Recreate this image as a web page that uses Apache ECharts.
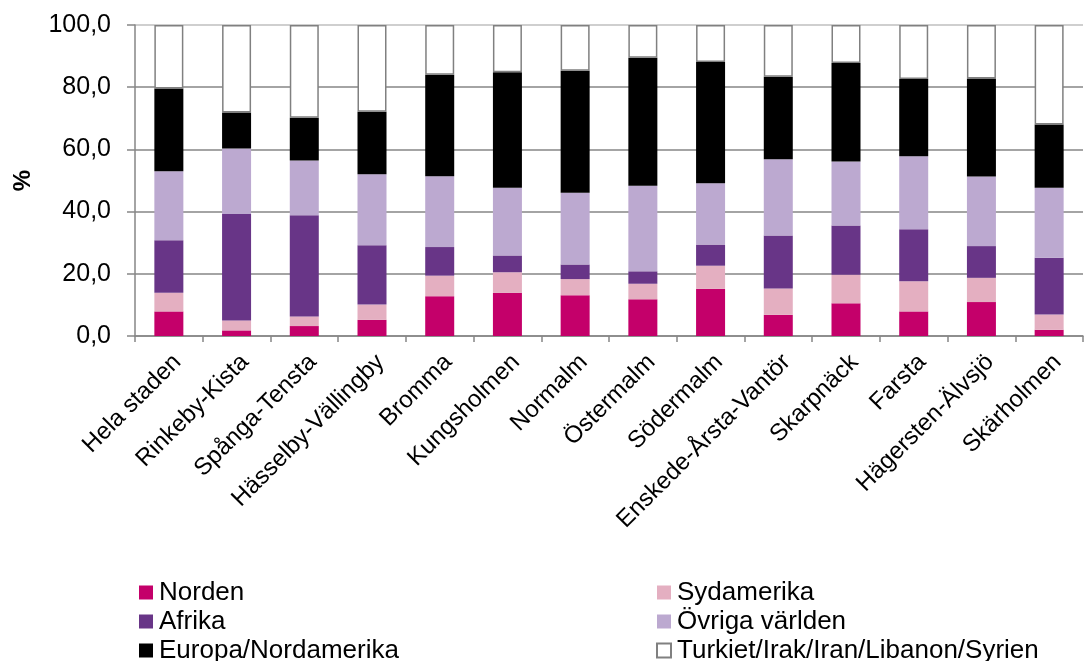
<!DOCTYPE html>
<html>
<head>
<meta charset="utf-8">
<script src="https://cdn.jsdelivr.net/npm/echarts@6/dist/echarts.min.js"></script>
<style>
html,body{margin:0;padding:0;background:#fff;}
#c{width:1090px;height:661px;}
</style>
</head>
<body>
<div id="c"></div>
<script>
const categories = ["Hela staden","Rinkeby-Kista","Spånga-Tensta","Hässelby-Vällingby","Bromma","Kungsholmen","Normalm","Östermalm","Södermalm","Enskede-Årsta-Vantör","Skarpnäck","Farsta","Hägersten-Älvsjö","Skärholmen"];
const norden      = [7.9, 1.8, 3.2, 5.2, 12.8, 13.9, 13.1, 11.8, 15.2, 6.8, 10.5, 7.9, 10.9, 2.0];
const sydamerika  = [6.0, 3.2, 3.1, 4.9, 6.6, 6.6, 5.2, 5.0, 7.4, 8.5, 9.2, 9.7, 7.8, 4.9];
const afrika      = [16.9, 34.2, 32.5, 19.1, 9.2, 5.4, 4.7, 4.0, 6.8, 17.0, 15.8, 16.7, 10.2, 18.3];
const ovriga      = [22.2, 21.1, 17.6, 22.8, 22.8, 21.8, 23.1, 27.5, 19.7, 24.5, 20.6, 23.5, 22.4, 22.5];
const europa      = [26.6, 11.6, 13.8, 20.1, 32.6, 37.1, 39.2, 41.2, 39.0, 26.6, 31.7, 24.8, 31.5, 20.3];
const turkiet     = [20.4, 28.1, 29.8, 27.9, 16.0, 15.2, 14.7, 10.5, 11.9, 16.6, 12.2, 17.4, 17.2, 32.0];
const yTicks = [0, 20, 40, 60, 80, 100];

const font = "'Liberation Sans', Arial, sans-serif";
const chart = echarts.init(document.getElementById('c'));

function s(name, data, color, border) {
  return {
    name: name, type: 'bar', stack: 'total', data: data,
    barWidth: 29,
    itemStyle: border ? {color: color, borderColor: '#808080', borderWidth: 1.5} : {color: color},
    emphasis: {disabled: true}
  };
}

const legendText = {fontFamily: font, fontSize: 26, color: '#000', lineHeight: 29, padding: [0,0,0,1]};

chart.setOption({
  animation: false,
  textStyle: {fontFamily: font},
  grid: {left: 135, right: 7, top: 25, bottom: 325, containLabel: false},
  legend: [
    {
      orient: 'vertical', left: 139, top: 578, height: 120, padding: 0,
      itemWidth: 14, itemHeight: 14, itemGap: 0,
      icon: 'rect',
      textStyle: legendText,
      data: ['Norden', 'Afrika', 'Europa/Nordamerika']
    },
    {
      orient: 'vertical', left: 656, top: 578, height: 120, padding: 0,
      itemWidth: 14, itemHeight: 14, itemGap: 0,
      icon: 'rect',
      textStyle: legendText,
      data: ['Sydamerika', 'Övriga världen', 'Turkiet/Irak/Iran/Libanon/Syrien']
    }
  ],
  xAxis: {
    type: 'category', data: categories,
    axisLine: {lineStyle: {color: '#868686', width: 1.5}},
    axisTick: {show: true, alignWithLabel: false, length: 6, lineStyle: {color: '#868686', width: 1.5}},
    axisLabel: {rotate: 45, interval: 0, fontSize: 24, color: '#000', fontFamily: font, margin: 14, verticalAlign: 'top'}
  },
  yAxis: {
    type: 'value', min: 0, max: 100, interval: 20,
    name: '%', nameLocation: 'middle', nameGap: 100, nameRotate: 90,
    nameTextStyle: {fontSize: 24, fontWeight: 'bold', color: '#000', fontFamily: font},
    axisLine: {show: true, lineStyle: {color: '#868686', width: 1.5}},
    axisTick: {show: true, length: 8, lineStyle: {color: '#868686', width: 1.5}},
    splitLine: {lineStyle: {color: ['#868686','#868686','#868686','#868686','#868686','#BFBFBF'], width: 1.5}},
    axisLabel: {
      fontSize: 25, color: '#000', fontFamily: font, margin: 24,
      formatter: function (v) { return yTicks.indexOf(v) >= 0 ? v.toFixed(1).replace('.', ',') : ''; }
    }
  },
  series: [
    s('Norden', norden, '#C4006A'),
    s('Sydamerika', sydamerika, '#E4AFC1'),
    s('Afrika', afrika, '#683587'),
    s('Övriga världen', ovriga, '#BCA9D0'),
    s('Europa/Nordamerika', europa, '#000000'),
    s('Turkiet/Irak/Iran/Libanon/Syrien', turkiet, '#FFFFFF', true)
  ]
});
</script>
</body>
</html>
